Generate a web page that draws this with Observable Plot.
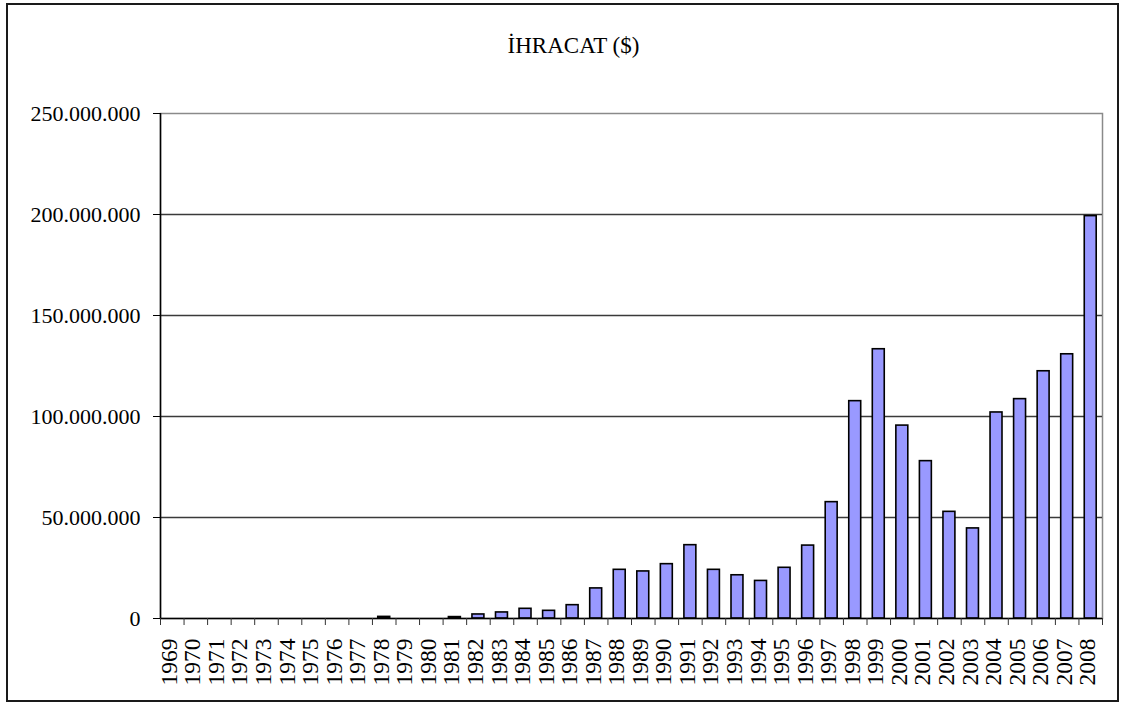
<!DOCTYPE html>
<html>
<head>
<meta charset="utf-8">
<script src="https://cdn.jsdelivr.net/npm/d3@7"></script>
<script src="https://cdn.jsdelivr.net/npm/@observablehq/plot@0.6"></script>
<style>
  html, body { margin: 0; padding: 0; background: #fff; }
  #wrap { position: relative; width: 1123px; height: 704px; }
  #border { position: absolute; left: 6px; top: 3px; width: 1113px; height: 699px; box-sizing: border-box; border: 2px solid #1a1a1a; pointer-events: none; }
</style>
</head>
<body>
<div id="wrap"><div id="border"></div></div>
<script>
const title = "İHRACAT ($)";
const years = ["1969","1970","1971","1972","1973","1974","1975","1976","1977","1978",
               "1979","1980","1981","1982","1983","1984","1985","1986","1987","1988",
               "1989","1990","1991","1992","1993","1994","1995","1996","1997","1998",
               "1999","2000","2001","2002","2003","2004","2005","2006","2007","2008"];
const exports = [0, 0, 0, 0, 0, 0, 0, 0, 0, 800000,
                 0, 0, 700000, 2000000, 3000000, 4800000, 3800000, 6600000, 14900000, 24100000,
                 23300000, 26900000, 36300000, 24100000, 21400000, 18600000, 25100000, 36100000, 57600000, 107600000,
                 133300000, 95500000, 77900000, 52800000, 44600000, 102000000, 108600000, 122400000, 130800000, 199200000];
const yTicks = [0, 50000000, 100000000, 150000000, 200000000, 250000000];

const data = years.map((y, i) => ({year: y, i, value: exports[i]}));
const n = years.length;
const boundaries = d3.range(n + 1);
const centers = d3.range(n).map(i => i + 0.5);

const W = 1123, H = 704;
const fmt = d3.formatLocale({decimal: ",", thousands: ".", grouping: [3], currency: ["", ""]}).format(",d");
const font = "'Liberation Serif', 'Times New Roman', serif";

const chart = Plot.plot({
  width: W,
  height: H,
  marginLeft: 160,
  marginRight: 21,
  marginTop: 113,
  marginBottom: 86,
  style: {fontFamily: font, background: "transparent", color: "#000"},
  x: {type: "linear", domain: [0, n]},
  y: {domain: [0, 250000000]},
  marks: [
    Plot.frame({stroke: "#8a8a8a", strokeWidth: 1.5}),
    Plot.gridY(yTicks.filter(d => d > 0 && d < 250000000), {stroke: "#3a3a3a", strokeOpacity: 1, strokeWidth: 1.3}),
    Plot.rectY(data, {x1: d => d.i, x2: d => d.i + 1, y: "value", fill: "#9999ff", stroke: "#000", strokeWidth: 1.6, insetLeft: 5.8, insetRight: 5.8}),
    Plot.ruleY([0], {stroke: "#000", strokeWidth: 1.5}),
    Plot.ruleX([0], {stroke: "#000", strokeWidth: 1.5}),
    Plot.axisX({ticks: boundaries, tickFormat: () => "", tickSize: 7, stroke: "#333", label: null}),
    Plot.axisX({ticks: centers, tickFormat: v => years[Math.floor(v)], tickSize: 0, tickRotate: -90, tickPadding: 20, fontSize: 23.5, label: null, dx: -3}),
    Plot.axisY({ticks: yTicks, tickFormat: fmt, tickSize: 7, tickPadding: 13, fontSize: 22, label: null, stroke: "#000"}),
    Plot.text([title], {frameAnchor: "top", dy: -77, dx: -58, fontSize: 23, fill: "#000"})
  ]
});
document.getElementById("wrap").prepend(chart);
</script>
</body>
</html>
